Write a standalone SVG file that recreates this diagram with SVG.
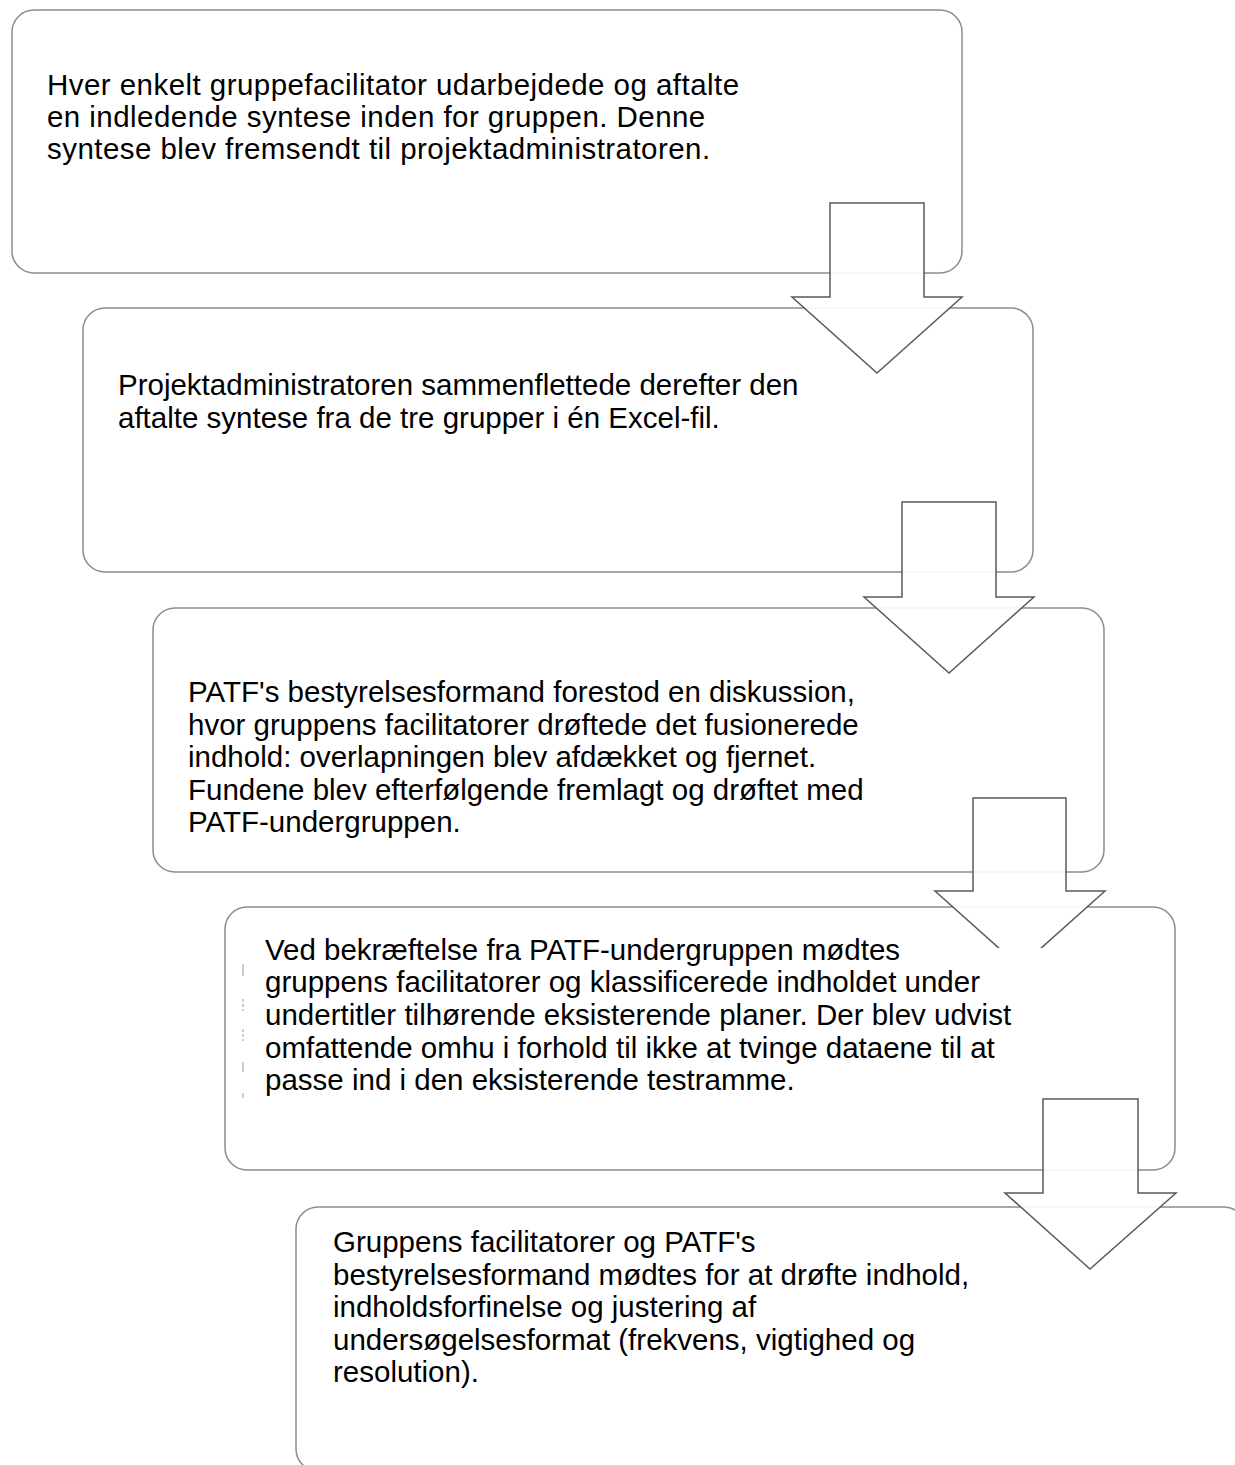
<svg xmlns="http://www.w3.org/2000/svg" width="1235" height="1465" viewBox="0 0 1235 1465">
<style>
.box{fill:#ffffff;stroke:#8c8c8c;stroke-width:1.5}
.arr{fill:#ffffff;fill-opacity:0.9;stroke:#5a5a5a;stroke-width:1.5;stroke-linejoin:miter}
.t{font-family:"Liberation Sans",Arial,sans-serif;font-size:29.5px;fill:#000000}
.wide{letter-spacing:0.45px}
.frag{stroke:#9a9a9a;stroke-width:1}
</style>
<defs>
<clipPath id="clip3"><rect x="900" y="780" width="250" height="168"/></clipPath>
</defs>
<rect width="1235" height="1465" fill="#ffffff"/>
<g id="node1">
<rect class="box" x="12" y="10" width="950" height="263" rx="22"/>
<text class="t wide" x="47" y="95">Hver enkelt gruppefacilitator udarbejdede og aftalte</text>
<text class="t wide" x="47" y="127">en indledende syntese inden for gruppen. Denne</text>
<text class="t wide" x="47" y="159">syntese blev fremsendt til projektadministratoren.</text>
</g>
<g id="node2">
<rect class="box" x="83" y="308" width="950" height="264" rx="22"/>
<text class="t" x="118" y="395">Projektadministratoren sammenflettede derefter den</text>
<text class="t" x="118" y="428">aftalte syntese fra de tre grupper i én Excel-fil.</text>
</g>
<g id="node3">
<rect class="box" x="153" y="608" width="951" height="264" rx="22"/>
<text class="t" x="188" y="702">PATF's bestyrelsesformand forestod en diskussion,</text>
<text class="t" x="188" y="735">hvor gruppens facilitatorer drøftede det fusionerede</text>
<text class="t" x="188" y="767">indhold: overlapningen blev afdækket og fjernet.</text>
<text class="t" x="188" y="800">Fundene blev efterfølgende fremlagt og drøftet med</text>
<text class="t" x="188" y="832">PATF-undergruppen.</text>
</g>
<g id="node4">
<rect class="box" x="225" y="907" width="950" height="263" rx="22"/>
<line class="frag" x1="243" y1="964" x2="243" y2="976"/>
<line class="frag" x1="243" y1="999" x2="243" y2="1011" stroke-dasharray="3 2"/>
<line class="frag" x1="243" y1="1029" x2="243" y2="1041" stroke-dasharray="3 2"/>
<line class="frag" x1="243" y1="1062" x2="243" y2="1072"/>
<line class="frag" x1="243" y1="1093" x2="243" y2="1098"/>
<text class="t" x="265" y="960">Ved bekræftelse fra PATF-undergruppen mødtes</text>
<text class="t" x="265" y="992">gruppens facilitatorer og klassificerede indholdet under</text>
<text class="t" x="265" y="1025">undertitler tilhørende eksisterende planer. Der blev udvist</text>
<text class="t" x="265" y="1058">omfattende omhu i forhold til ikke at tvinge dataene til at</text>
<text class="t" x="265" y="1090">passe ind i den eksisterende testramme.</text>
</g>
<g id="node5">
<rect class="box" x="296" y="1207" width="950" height="264" rx="22"/>
<text class="t" x="333" y="1252">Gruppens facilitatorer og PATF's</text>
<text class="t" x="333" y="1285">bestyrelsesformand mødtes for at drøfte indhold,</text>
<text class="t" x="333" y="1317">indholdsforfinelse og justering af</text>
<text class="t" x="333" y="1350">undersøgelsesformat (frekvens, vigtighed og</text>
<text class="t" x="333" y="1382">resolution).</text>
</g>
<g id="connectors">
<polygon class="arr" points="830,203 924,203 924,297 962,297 877,373 792,297 830,297"/>
<polygon class="arr" points="902,502 996,502 996,597 1034,597 949,673 864,597 902,597"/>
<polygon class="arr" clip-path="url(#clip3)" points="973,798 1066,798 1066,891 1105,891 1020,967 935,891 973,891"/>
<polygon class="arr" points="1043,1099 1138,1099 1138,1193 1176,1193 1090,1269 1005,1193 1043,1193"/>
</g>
</svg>
